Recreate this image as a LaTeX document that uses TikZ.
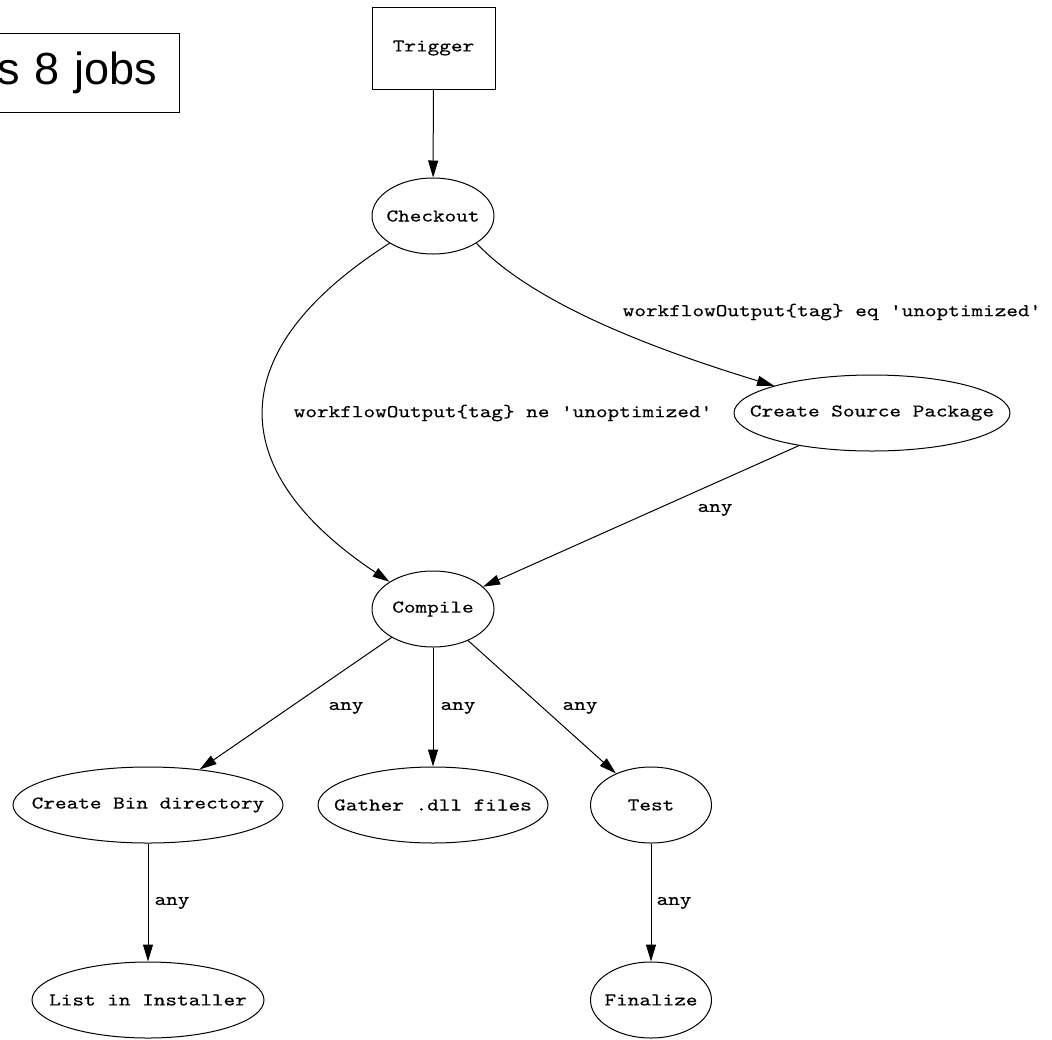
\documentclass[tikz,border=0pt]{standalone}
\usepackage{fontspec}
\usepackage{tikz}
\usetikzlibrary{shapes.geometric, arrows.meta, positioning}
\newfontfamily\gvmono[FakeStretch=1.23, FakeBold=0.3, Ligatures=TeXOff]{lmmono10-regular.otf}
\newfontfamily\notesans{Liberation Sans}
\newcommand{\gvfont}{\gvmono\fontsize{18}{21}\selectfont}
\tikzset{
  jobell/.style={draw, ellipse, line width=1pt, inner sep=0pt, minimum height=76pt, font=\gvfont,
    execute at begin node={\hbox to 0pt\bgroup\hss}, execute at end node={\hss\egroup}},
  trigbox/.style={draw, rectangle, line width=1pt, inner sep=0pt, minimum width=123pt, minimum height=82pt, font=\gvfont},
  flow/.style={line width=1pt, -{Triangle[length=17pt, width=10pt]}},
  edgelbl/.style={font=\gvfont, inner sep=0pt},
}

\begin{document}
\begin{tikzpicture}[x=1pt, y=-1pt]
  \useasboundingbox (0,0) rectangle (1052,1039);

  % caption box, cut at the left edge
  \node[draw, line width=1pt, anchor=north east, minimum height=79pt, text width=175pt, align=right, inner xsep=22pt, font=\notesans\fontsize{45}{50}\selectfont] (jobs) at (180,33) {s 8 jobs};

  % jobs
  \node[trigbox] (trigger) at (433.5,48) {Trigger};
  \node[jobell, minimum width=122pt] (checkout) at (433,216) {Checkout};
  \node[jobell, minimum width=276pt] (srcpkg) at (872,413) {Create Source Package};
  \node[jobell, minimum width=122pt] (compile) at (433,609) {Compile};
  \node[jobell, minimum width=270pt] (bindir) at (148,805) {Create Bin directory};
  \node[jobell, minimum width=230pt] (gather) at (433,805) {Gather .dll files};
  \node[jobell, minimum width=121pt] (test) at (651,805) {Test};
  \node[jobell, minimum width=232pt] (installer) at (148,1000) {List in Installer};
  \node[jobell, minimum width=121pt] (finalize) at (651,1000) {Finalize};

  % conditions
  \node[edgelbl] (lblEq) at (832,312) {workflowOutput\{tag\} eq 'unoptimized'};
  \node[edgelbl] (lblNe) at (503,413) {workflowOutput\{tag\} ne 'unoptimized'};
  \node[edgelbl] (lblAnySrc) at (715,510) {any};
  \node[edgelbl] (lblAnyBin) at (346,708) {any};
  \node[edgelbl] (lblAnyGather) at (458,708) {any};
  \node[edgelbl] (lblAnyTest) at (580,708) {any};
  \node[edgelbl] (lblAnyInst) at (172,903) {any};
  \node[edgelbl] (lblAnyFin) at (674,903) {any};

  % flow
  \draw[flow] (trigger) -- (checkout);
  \draw[flow] (checkout.south west) .. controls (222,350) and (222,470) .. (compile.north west);
  \draw[flow] (checkout.south east) .. controls (530,300) and (640,345) .. (srcpkg.north west);
  \draw[flow] (srcpkg) -- (compile);
  \draw[flow] (compile) -- (bindir);
  \draw[flow] (compile) -- (gather);
  \draw[flow] (compile) -- (test);
  \draw[flow] (bindir) -- (installer);
  \draw[flow] (test) -- (finalize);
\end{tikzpicture}
\end{document}
